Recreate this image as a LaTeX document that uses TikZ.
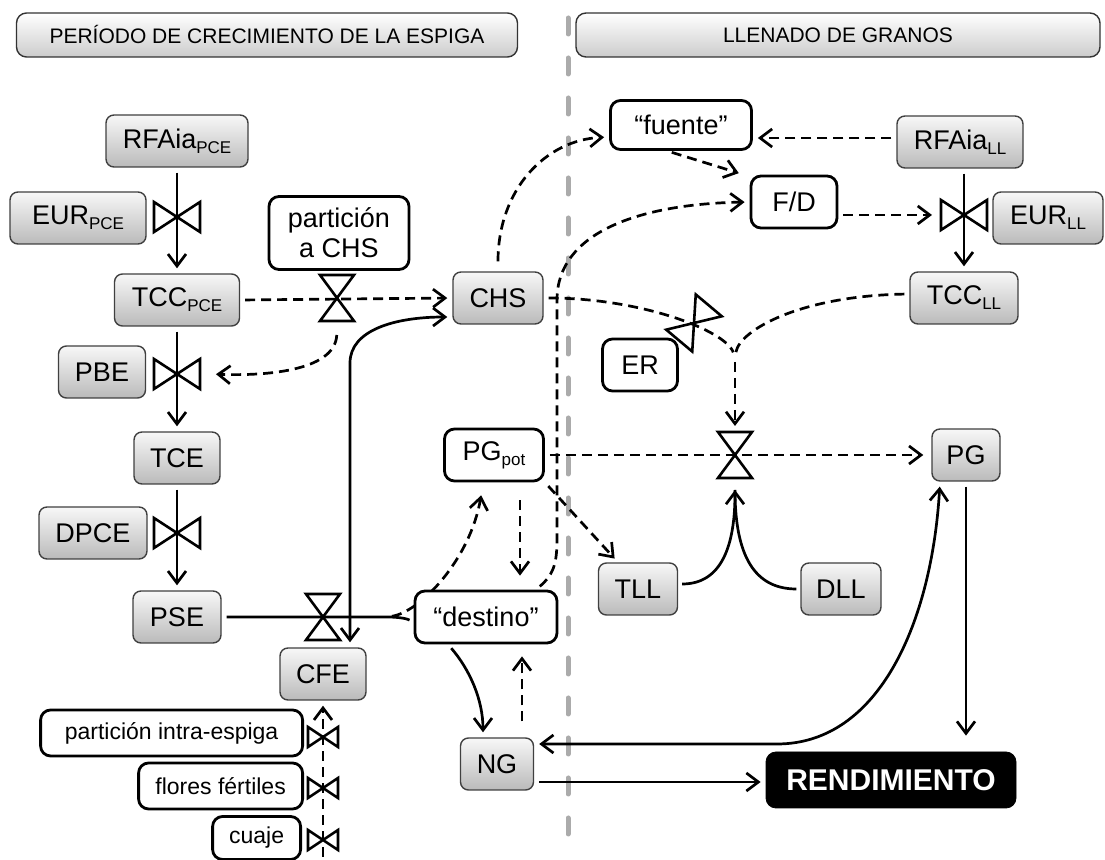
\documentclass[tikz,border=0pt]{standalone}
\usepackage{fontspec}
\setmainfont{Liberation Sans}
\usetikzlibrary{arrows.meta,calc,backgrounds}
\definecolor{sepGray}{HTML}{ABABAB}
\newcommand\lowidx[1]{\raisebox{-0.35ex}{\fontsize{8.5}{9}\selectfont #1}}
\tikzset{
  gbox/.style={draw=black!75,line width=0.7pt,rounded corners=4pt,top color=black!3,
    bottom color=black!27,minimum height=26pt,inner xsep=2pt,font=\fontsize{13.5}{15}\selectfont},
  wbox/.style={draw=black,line width=1.4pt,rounded corners=5pt,fill=white,minimum height=26pt,
    inner xsep=2pt,align=center,font=\fontsize{13.5}{15}\selectfont},
  sbox/.style={draw=black,line width=1.4pt,rounded corners=5pt,fill=white,anchor=east,
    minimum height=23pt,inner xsep=2pt,font=\fontsize{11.5}{13}\selectfont},
  hbox/.style={draw=black!80,line width=0.7pt,rounded corners=5pt,top color=white,
    bottom color=black!20,minimum height=22pt,font=\fontsize{10.5}{12}\selectfont},
  flow/.style={line width=1.35pt,shorten >=2.5pt,shorten <=2.5pt},
  dflow/.style={flow,dash pattern=on 5pt off 3pt},
  sep/.style={line width=2.5pt,sepGray,line cap=round,dash pattern=on 8pt off 12pt},
  valve/.style={line width=1.3pt},
  pics/vwide/.style={code={\draw[valve] (-23,-15) -- (23,15) -- (23,-15) -- (-23,15) -- cycle;}},
  pics/vtall/.style={code={\draw[valve] (-17,-23) -- (17,-23) -- (-17,23) -- (17,23) -- cycle;}},
  pics/vsmall/.style={code={\draw[valve] (-15,-10) -- (15,10) -- (15,-10) -- (-15,10) -- cycle;}}
}
\begin{document}
\begin{tikzpicture}[x=0.5pt,y=-0.5pt,>={Straight Barb[length=6pt,width=9pt]}]
  \useasboundingbox (0,0) rectangle (1105,860);
  % headers
  \node[hbox,minimum width=250.5pt] (hdrA) at (267,35) {PERÍODO DE CRECIMIENTO DE LA ESPIGA};
  \node[hbox,minimum width=262pt] (hdrB) at (838,35) {LLENADO DE GRANOS};

  % periodo de crecimiento de la espiga
  \node[gbox,minimum width=71pt] (rfaP) at (177,141) {RFAia\lowidx{PCE}};
  \node[gbox,minimum width=68pt] (eurP) at (78,218) {EUR\lowidx{PCE}};
  \node[gbox,minimum width=62.5pt] (tccP) at (177,300) {TCC\lowidx{PCE}};
  \node[gbox,minimum width=43.5pt] (pbe) at (102,372) {PBE};
  \node[gbox,minimum width=43pt] (tce) at (177,458) {TCE};
  \node[gbox,minimum width=54pt] (dpce) at (93,533) {DPCE};
  \node[gbox,minimum width=44pt] (pse) at (177,617) {PSE};
  \node[gbox,minimum width=43pt] (cfe) at (323,674) {CFE};
  \node[wbox,minimum width=70pt,minimum height=36.5pt] (partCHS) at (339,233) {partición\\a CHS};
  \node[gbox,minimum width=45pt] (chs) at (498,298) {CHS};
  \node[sbox,minimum width=131pt] (pintra) at (304,733) {partición intra-espiga};
  \node[sbox,minimum width=82pt] (flores) at (304,786) {flores fértiles};
  \node[sbox,minimum width=44pt,minimum height=21.5pt] (cuaje) at (302,838) {cuaje};

  % llenado de granos
  \node[wbox,minimum width=70.5pt,minimum height=24.5pt] (fuente) at (681,125) {“fuente”};
  \node[wbox,minimum width=43pt] (fd) at (794,202) {F/D};
  \node[gbox,minimum width=63pt] (rfaL) at (960,142) {RFAia\lowidx{LL}};
  \node[gbox,minimum width=55pt] (eurL) at (1048,218) {EUR\lowidx{LL}};
  \node[gbox,minimum width=54pt] (tccL) at (964,298) {TCC\lowidx{LL}};
  \node[wbox,minimum width=37.5pt] (er) at (640,365) {ER};
  \node[wbox,minimum width=49.5pt] (pgpot) at (494,455) {PG\lowidx{pot}};
  \node[gbox,minimum width=34pt] (pg) at (966,455) {PG};
  \node[gbox,minimum width=39.5pt] (tll) at (638,589) {TLL};
  \node[gbox,minimum width=40pt] (dll) at (841,589) {DLL};
  \node[wbox,minimum width=71pt] (destino) at (486,617) {“destino”};
  \node[gbox,minimum width=36.5pt] (ng) at (497,764) {NG};
  \node[draw=black,fill=black,text=white,rounded corners=5pt,minimum width=125pt,minimum height=28pt,
        font=\bfseries\fontsize{15}{17}\selectfont] (rend) at (891,780) {RENDIMIENTO};

  % valves
  \coordinate (v1) at (177,217);
  \coordinate (v2) at (337,298);
  \coordinate (v3) at (177,374);
  \coordinate (v4) at (177,533);
  \coordinate (v5) at (323,617);
  \coordinate (v6) at (964,215);
  \coordinate (v7) at (735,455);
  \coordinate (ver) at (694,323);
  \foreach \v in {v1,v3,v4,v6}{\pic at (\v) {vwide};}
  \foreach \v in {v2,v5,v7}{\pic at (\v) {vtall};}
  \pic[rotate=-40] at (ver) {vtall};
  \foreach \y in {737,788,840}{\pic at (323,\y) {vsmall};}

  % free ends
  \coordinate (split) at (387,617);
  \coordinate (join) at (735,357);
  \coordinate (v7in) at (735,490);
  \coordinate (base) at (323,862);
  \coordinate (bend) at (350,363);

  \begin{scope}[on background layer]
    \draw[sep] (568,18) -- (568,850);
    % solid flows
    \foreach \a/\b in {rfaP/tccP,tccP/tce,tce/pse}{\draw[flow,->] (\a) -- (\b);}
    \draw[flow,->] (v6 |- rfaL.south) -- (v6 |- tccL.north);
    \draw[flow,<->] (bend |- cfe.north) -- (bend) .. controls (350,330) and (395,317) .. ([yshift=-9.5pt]chs.west);
    \draw[flow] (pse.east) -- (split) .. controls (400,617) and (408,619) .. ([yshift=-3pt]destino.west);
    \draw[flow,->] ([xshift=-19pt]destino.south) .. controls (470,670) and (483,700) .. ([xshift=-7pt]ng.north);
    \draw[flow,<->] ([yshift=10pt]ng.east) -- (777,744) .. controls (880,744) and (932,620) .. ([xshift=-13pt]pg.south);
    \draw[flow,->] ([yshift=-9pt]ng.east) -- ([yshift=-9pt]ng.east -| rend.west);
    \draw[flow,->,shorten >=8pt] (pg.south) -- (pg.south |- rend.north);
    \draw[line width=1.35pt,shorten <=2pt,->] ([yshift=2.5pt]tll.east) .. controls (722,584) and (735,545) .. (v7in);
    \draw[line width=1.35pt,shorten <=2pt] (dll.west) .. controls (750,589) and (735,548) .. (v7in);
    % dashed influences
    \draw[dflow,->] (tccP.east) -- (chs.west);
    \draw[dflow,->] ([yshift=-16pt]v2) .. controls (335,372) and (262,376) .. ([xshift=17pt]v3);
    \draw[dflow,->] (split) .. controls (420,612) and (470,560) .. ([shift={(-6pt,-4pt)}]pgpot.south);
    \draw[dflow,->,shorten <=9pt,shorten >=7pt] ([xshift=13pt]pgpot.south) -- ([xshift=17pt]destino.north);
    \draw[dflow,->] (pgpot.south east) -- ([xshift=-10pt]tll.north);
    \draw[dflow,->,shorten >=4pt] (pgpot.east) -- (pg.west);
    \draw[dflow,->,shorten <=8pt,shorten >=6pt] ([xshift=12.5pt]ng.north) -- ([xshift=18pt]destino.south);
    \draw[dflow,->,shorten <=5pt] (chs.north) .. controls (498,190) and (545,140) .. ([yshift=-6pt]fuente.west);
    \draw[dflow,->] ([yshift=2pt]rfaL.west) -- ([yshift=2pt]rfaL.west -| fuente.east);
    \draw[dflow,->] ([xshift=-7pt]fuente.south) -- ([xshift=-3pt]fd.north west);
    \draw[dflow,->] ([xshift=25pt]destino.north) .. controls (552,576) and (557,566) .. (557,540)
       -- (557,300) .. controls (557,232) and (640,204) .. (fd.west);
    \draw[dflow,->,shorten >=4pt] ([yshift=-6.5pt]fd.east) -- ([xshift=-12pt]v6);
    \draw[dflow] (chs.east) .. controls (640,298) and (725,330) .. (join);
    \draw[dflow] ([yshift=2pt]tccL.west) .. controls (800,296) and (740,330) .. (join);
    \draw[dflow,->] (join) -- ([yshift=12pt]v7);
    \draw[dflow,->] (base) -- (base |- cfe.south);
  \end{scope}
\end{tikzpicture}
\end{document}
